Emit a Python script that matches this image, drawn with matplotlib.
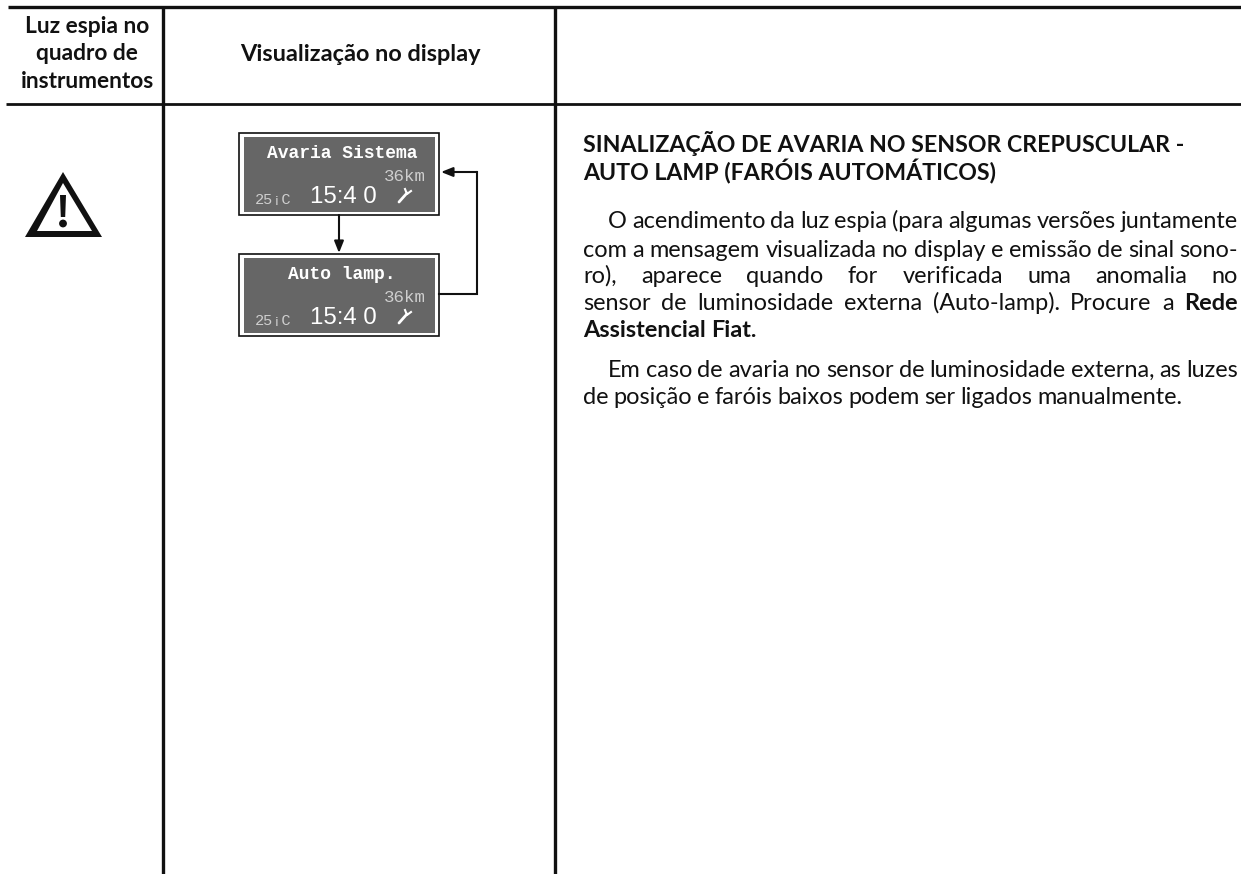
import matplotlib
matplotlib.use('Agg')
import matplotlib.pyplot as plt
from matplotlib.patches import Rectangle, Polygon

W, H = 1241, 874
FONT = 'Lato'
MONO = 'Liberation Mono'

header_left = ['Luz espia no', 'quadro de', 'instrumentos']
header_mid = 'Visualização no display'
heading = ['SINALIZAÇÃO DE AVARIA NO SENSOR CREPUSCULAR -', 'AUTO LAMP (FARÓIS AUTOMÁTICOS)']
para1 = ['O acendimento da luz espia (para algumas versões juntamente',
         'com a mensagem visualizada no display e emissão de sinal sono-',
         'ro), aparece quando for verificada uma anomalia no',
         'sensor de luminosidade externa (Auto-lamp). Procure a Rede']
para1_last = 'Assistencial Fiat.'
para2 = ['Em caso de avaria no sensor de luminosidade externa, as luzes']
para2_last = 'de posição e faróis baixos podem ser ligados manualmente.'
bold_words = ['Rede', 'Assistencial', 'Fiat']
display_msgs = ['Avaria Sistema', 'Auto lamp.']
display_km = '36km'
display_temp = '25¡C'
display_time = '15:4 0'

fig = plt.figure(figsize=(W / 100, H / 100), dpi=100)
ax = fig.add_axes([0, 0, 1, 1])
ax.set_xlim(0, W)
ax.set_ylim(H, 0)
ax.axis('off')
ink = '#111111'

# table rules
ax.plot([8, W], [7, 7], color=ink, lw=2.4, solid_capstyle='butt')
ax.plot([6, W], [104, 104], color=ink, lw=2.0, solid_capstyle='butt')
ax.plot([163, 163], [7, H], color=ink, lw=2.4, solid_capstyle='butt')
ax.plot([555, 555], [7, H], color=ink, lw=2.4, solid_capstyle='butt')

# header
for i, s in enumerate(header_left):
    ax.text(87, 33 + i * 27.5, s, ha='center', va='baseline', family=FONT,
            weight='bold', fontsize=16.4, color=ink)
ax.text(360, 61, header_mid, ha='center', va='baseline', family=FONT,
        weight='bold', fontsize=16.9, color=ink)

# warning triangle
ax.add_patch(Polygon([[63, 172], [25, 237], [102, 237]], closed=True, fc=ink, ec='none'))
ax.add_patch(Polygon([[63, 183], [37, 231], [92, 231]], closed=True, fc='white', ec='none'))
ax.add_patch(Polygon([[60, 195], [66, 195], [65.2, 217], [60.8, 217]], closed=True, fc=ink, ec='none'))
ax.add_patch(plt.Circle((63, 223.5), 3.2, color=ink))


def draw_display(top, msg, msg_x):
    ax.add_patch(Rectangle((239, top), 200, 82, fc='white', ec=ink, lw=1.2))
    ax.add_patch(Rectangle((244, top + 4), 191, 75, fc='#666666', ec='none'))
    ax.text(msg_x, top + 25, msg, ha='left', va='baseline', family=MONO, weight='bold',
            fontsize=13, color='white')
    ax.text(426, top + 48, display_km, ha='right', va='baseline', family=MONO,
            fontsize=12.6, color='#cfcfcf')
    ax.text(255, top + 71, display_temp, ha='left', va='baseline', family=MONO,
            fontsize=11, color='#cfcfcf')
    ax.text(310, top + 70, display_time, ha='left', va='baseline', family='Liberation Sans',
            fontsize=17.3, color='white')
    # wrench
    ax.plot([399, 407], [top + 69, top + 60], color='white', lw=2.0, solid_capstyle='round')
    ax.plot([405, 407, 411], [top + 56, top + 61, top + 58], color='white', lw=1.5)


draw_display(133, display_msgs[0], 267)
draw_display(254, display_msgs[1], 288)

# arrows between the displays
arrow = dict(arrowstyle='-|>,head_width=0.28,head_length=0.7', color=ink, lw=1.5,
             shrinkA=0, shrinkB=0)
ax.annotate('', xy=(339, 253), xytext=(339, 215), arrowprops=arrow)
ax.plot([439, 477, 477], [294, 294, 172], color=ink, lw=1.5, solid_joinstyle='miter')
ax.annotate('', xy=(441, 172), xytext=(477, 172), arrowprops=arrow)

# right column
for i, s in enumerate(heading):
    ax.text(583, 152 + i * 28, s, ha='left', va='baseline', family=FONT, weight='bold',
            fontsize=16.7, color=ink)

renderer = fig.canvas.get_renderer()
BODY = 16.9
para1_y = [228, 257, 283, 310]


def is_bold(word):
    return word.strip('.,') in bold_words


def justified(line, x0, x1, y):
    words = line.split()
    items = [ax.text(0, y, w, ha='left', va='baseline', family=FONT, fontsize=BODY, color=ink,
                     weight='bold' if is_bold(w) else 'normal') for w in words]
    widths = [t.get_window_extent(renderer).width for t in items]
    gap = (x1 - x0 - sum(widths)) / (len(words) - 1)
    x = x0
    for t, w in zip(items, widths):
        t.set_x(x)
        x += w + gap


def plain(line, x0, y):
    x = x0
    for w in line.split():
        t = ax.text(x, y, w, ha='left', va='baseline', family=FONT, fontsize=BODY, color=ink,
                    weight='bold' if is_bold(w) else 'normal')
        x += t.get_window_extent(renderer).width + 5


for i, s in enumerate(para1):
    justified(s, 608 if i == 0 else 583, 1238, para1_y[i])
plain(para1_last, 583, 337)
justified(para2[0], 608, 1238, 377)
plain(para2_last, 583, 404)

fig.savefig('out.png', dpi=100)
